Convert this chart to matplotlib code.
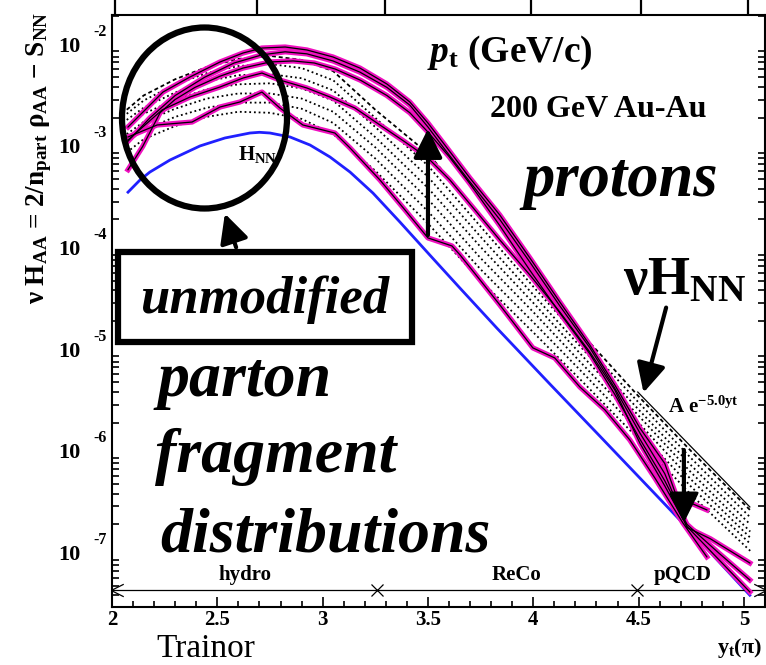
import matplotlib
matplotlib.use("Agg")
import numpy as np
import matplotlib.pyplot as plt
from matplotlib.patches import Ellipse, Rectangle, FancyArrowPatch
from matplotlib.path import Path
from matplotlib.ticker import MultipleLocator, LogLocator, NullFormatter, FixedLocator

plt.rcParams.update({
    "font.family": ["Liberation Serif", "DejaVu Serif"],
    "font.weight": "bold",
    "mathtext.fontset": "custom",
    "mathtext.rm": "Liberation Serif:bold",
    "mathtext.it": "Liberation Serif:italic:bold",
    "mathtext.bf": "Liberation Serif:bold",
    "mathtext.default": "rm",
})

# ---------------- data (log10 of nu*H) ----------------
# NN reference H_NN
yt_hnn = [2.076, 2.133, 2.180, 2.275, 2.418, 2.536, 2.655, 2.700, 2.750, 2.845, 2.940,
          3.035, 3.130, 3.239, 3.367, 3.509, 3.652, 3.827, 4.079, 4.316, 4.615, 4.791, 5.028]
lg_hnn = [-3.431, -3.311, -3.233, -3.115, -2.976, -2.898, -2.849, -2.842, -2.849, -2.888, -2.967,
          -3.085, -3.233, -3.440, -3.725, -4.050, -4.375, -4.768, -5.319, -5.831, -6.480, -6.864, -7.396]

# Au-Au centrality data, curves 1..5
yt_aa1 = [2.076, 2.242, 2.370, 2.513, 2.622, 2.712, 2.822, 2.925, 3.049, 3.177, 3.305, 3.414,
          3.500, 3.580, 3.699, 3.841, 3.984, 4.126, 4.268, 4.387, 4.506, 4.624, 4.681, 4.824]
lg_aa1 = [-2.790, -2.446, -2.298, -2.150, -2.062, -2.013, -2.003, -2.032, -2.101, -2.210, -2.367, -2.544,
          -2.751, -2.967, -3.292, -3.656, -4.079, -4.512, -4.934, -5.328, -5.751, -6.100, -6.430, -6.557]

yt_aa2 = [2.076, 2.180, 2.300, 2.440, 2.580, 2.712, 2.822, 2.925, 3.049, 3.177, 3.305, 3.414, 3.500,
          3.580, 3.699, 3.841, 3.984, 4.126, 4.268, 4.387, 4.506, 4.624, 4.730, 4.840, 5.028]
lg_aa2 = [-2.930, -2.700, -2.480, -2.300, -2.160, -2.080, -2.050, -2.070, -2.140, -2.250, -2.400, -2.575, -2.790,
          -3.010, -3.330, -3.700, -4.120, -4.550, -4.960, -5.360, -5.800, -6.200, -6.730, -6.840, -7.079]

yt_aa3 = [2.076, 2.146, 2.228, 2.299, 2.394, 2.513, 2.622, 2.750, 2.860, 2.960, 3.060, 3.180, 3.305, 3.414,
          3.500, 3.600, 3.700, 3.841, 3.984, 4.126, 4.268, 4.387, 4.506, 4.624, 4.730, 4.880, 5.028]
lg_aa3 = [-3.210, -2.980, -2.650, -2.520, -2.400, -2.290, -2.210, -2.150, -2.140, -2.160, -2.220, -2.330, -2.480, -2.650,
          -2.840, -3.080, -3.350, -3.760, -4.200, -4.620, -5.020, -5.420, -5.860, -6.270, -6.700, -6.980, -7.246]

yt_aa4 = [2.076, 2.237, 2.370, 2.513, 2.622, 2.712, 2.797, 2.925, 3.035, 3.153, 3.272, 3.391, 3.500,
          3.604, 3.723, 3.841, 3.984, 4.126, 4.268, 4.387, 4.506, 4.624, 4.730, 5.028]
lg_aa4 = [-2.918, -2.623, -2.495, -2.396, -2.308, -2.259, -2.328, -2.406, -2.495, -2.603, -2.770, -2.937, -3.095,
          -3.311, -3.606, -3.901, -4.246, -4.610, -5.003, -5.377, -5.900, -6.320, -6.720, -7.364]

yt_aa5 = [2.076, 2.214, 2.380, 2.513, 2.607, 2.712, 2.797, 2.906, 3.058, 3.130, 3.272, 3.391, 3.500,
          3.614, 3.652, 3.747, 3.841, 3.998, 4.102, 4.221, 4.340, 4.458, 4.577, 4.710, 4.824]
lg_aa5 = [-2.888, -2.770, -2.741, -2.593, -2.544, -2.446, -2.603, -2.770, -2.849, -2.996, -3.311, -3.606, -3.881,
          -3.960, -4.048, -4.294, -4.540, -4.963, -5.062, -5.347, -5.573, -5.868, -6.242, -6.684, -7.019]

# two-component model curves
yt_model = [2.07, 2.15, 2.30, 2.45, 2.60, 2.75, 2.90, 3.05, 3.25, 3.50, 3.75, 4.00, 4.25, 4.50, 4.75, 5.03]
lg_model = [
    [-2.62, -2.48, -2.32, -2.20, -2.12, -2.09, -2.13, -2.24, -2.62, -3.05, -3.66, -4.28, -4.87, -5.44, -5.98, -6.56],
    [-2.66, -2.53, -2.37, -2.26, -2.19, -2.17, -2.21, -2.33, -2.70, -3.17, -3.77, -4.36, -4.94, -5.50, -6.05, -6.63],
    [-2.72, -2.60, -2.45, -2.34, -2.28, -2.27, -2.31, -2.43, -2.79, -3.28, -3.87, -4.44, -5.01, -5.57, -6.12, -6.70],
    [-2.78, -2.66, -2.52, -2.42, -2.37, -2.36, -2.41, -2.53, -2.89, -3.39, -3.97, -4.52, -5.08, -5.63, -6.19, -6.77],
    [-2.86, -2.74, -2.61, -2.51, -2.46, -2.46, -2.51, -2.64, -2.99, -3.50, -4.08, -4.61, -5.16, -5.70, -6.26, -6.83],
    [-2.94, -2.82, -2.69, -2.60, -2.55, -2.55, -2.61, -2.75, -3.10, -3.62, -4.19, -4.71, -5.24, -5.78, -6.33, -6.89],
    [-3.04, -2.91, -2.78, -2.69, -2.64, -2.65, -2.71, -2.86, -3.22, -3.74, -4.30, -4.81, -5.33, -5.86, -6.41, -6.96],
]

# pQCD exponential reference A exp(-5.0 yt)
yt_exp = [4.496, 5.028]
lg_exp = [-5.397, -6.528]

# p_t (GeV/c) tick positions on the upper axis, in y_t
yt_pt_ticks = [2.014, 2.688, 3.296, 3.989, 4.511, 5.019]

xtick_vals = [2, 2.5, 3, 3.5, 4, 4.5, 5]
xtick_text = ["2", "2.5", "3", "3.5", "4", "4.5", "5"]
ytick_exp = [-2, -3, -4, -5, -6, -7]

regions = ["hydro", "ReCo", "pQCD"]
region_centers = [2.63, 3.92, 4.71]
region_edges = [3.26, 4.49]
region_level = -7.344

# ---------------- figure ----------------
W, H = 766, 665
fig = plt.figure(figsize=(W / 100, H / 100), dpi=100)
ax = fig.add_axes([112 / W, 1 - 607 / H, (765 - 112) / W, (607 - 15) / H])


def fxy(px, py):
    return px / W, 1 - py / H


ax.set_xlim(2.0, 5.1)
ax.set_yscale("log")
ax.set_ylim(10 ** -7.512, 10 ** -1.688)

MAG = "#f010c0"
BLUE = "#2020ff"

# model band
for i, lg in enumerate(lg_model):
    ls = (0, (2.2, 1.6)) if i == 0 else (0, (1, 1.6))
    ax.plot(yt_model, 10 ** np.array(lg), color="black", lw=1.3, ls=ls, zorder=2)

# reference line
ax.plot(yt_hnn, 10 ** np.array(lg_hnn), color=BLUE, lw=2.0, zorder=3)

# data curves: magenta with black core
for xs, lg in [(yt_aa5, lg_aa5), (yt_aa4, lg_aa4), (yt_aa3, lg_aa3), (yt_aa2, lg_aa2), (yt_aa1, lg_aa1)]:
    ys = 10 ** np.array(lg)
    ax.plot(xs, ys, color=MAG, lw=3.8, solid_joinstyle="round", zorder=4)
    ax.plot(xs, ys, color="black", lw=0.9, zorder=5)

ax.plot(yt_exp, 10 ** np.array(lg_exp), color="black", lw=0.9, zorder=3)

# axis styling
for s in ax.spines.values():
    s.set_linewidth(1.5)
ax.set_xticks(xtick_vals)
ax.set_xticklabels(xtick_text, fontsize=15, fontweight="bold")
ax.xaxis.set_minor_locator(MultipleLocator(0.1))
ax.yaxis.set_major_locator(FixedLocator([10.0 ** e for e in ytick_exp]))
ax.yaxis.set_minor_locator(LogLocator(base=10, subs=np.arange(2, 10), numticks=20))
ax.yaxis.set_major_formatter(NullFormatter())
ax.yaxis.set_minor_formatter(NullFormatter())
ax.tick_params(which="both", direction="in", top=True, right=True, width=1.2)
ax.tick_params(axis="x", which="major", length=7, pad=2.5)
ax.tick_params(axis="x", which="minor", length=4)
ax.tick_params(axis="y", which="major", length=9.5)
ax.tick_params(axis="y", which="minor", length=5)

# upper p_t axis ticks (outward)
axt = ax.twiny()
axt.set_xlim(ax.get_xlim())
axt.xaxis.set_major_locator(FixedLocator(yt_pt_ticks))
axt.xaxis.set_minor_locator(FixedLocator([]))
axt.tick_params(axis="x", which="major", direction="out", length=14, width=1.6, labeltop=False)
axt.set_yticks([])
for s in axt.spines.values():
    s.set_visible(False)

# y tick labels: 10 with raised exponent
ytr = ax.get_yaxis_transform()
for e in ytick_exp:
    ax.text(-0.066, 10.0 ** e, "10", transform=ytr, ha="center", va="center",
            fontsize=16, fontweight="bold")
    ax.annotate(str(e), xy=(-0.066, 10.0 ** e), xycoords=ytr, xytext=(31, 15),
                textcoords="offset pixels", ha="center", va="center",
                fontsize=11.5, fontweight="bold")

fig.text(*fxy(39, 158), "ν H$_{\\mathrm{AA}}$ = 2/n$_{\\mathrm{part}}$ ρ$_{\\mathrm{AA}}$ − S$_{\\mathrm{NN}}$",
         rotation=90, ha="center", va="center", fontsize=19.5, fontweight="bold")

fig.text(*fxy(762, 653), "y$_{\\mathrm{t}}$(π)", ha="right", va="baseline", fontsize=16, fontweight="bold")
fig.text(*fxy(156, 657), "Trainor", ha="left", va="baseline", fontsize=24, fontweight="normal")

# region bar
ax.plot([2.0, 5.1], [10 ** region_level] * 2, color="black", lw=0.9, zorder=3)
chev_l = Path([(1, 1), (-1, 0), (1, -1)])
chev_r = Path([(-1, 1), (1, 0), (-1, -1)])
ax.plot([2.025], [10 ** region_level], marker=chev_l, ms=9, mfc="none", mec="black", mew=0.9, ls="none")
ax.plot([5.075], [10 ** region_level], marker=chev_r, ms=9, mfc="none", mec="black", mew=0.9, ls="none")
ax.plot(region_edges, [10 ** region_level] * 2, marker="x", ms=9, mec="black", mew=0.9, ls="none")
for name, xc in zip(regions, region_centers):
    ax.annotate(name, xy=(xc, 10 ** region_level), xytext=(0, 5), textcoords="offset pixels",
                ha="center", va="bottom", fontsize=15, fontweight="bold")

# annotations
fig.text(*fxy(427, 62), "$\\mathit{p}_{\\mathrm{t}}$ (GeV/c)", ha="left", va="baseline", fontsize=27, fontweight="bold")
fig.text(*fxy(490, 117), "200 GeV Au-Au", ha="left", va="baseline", fontsize=23, fontweight="bold")
fig.text(*fxy(523, 196), "protons", ha="left", va="baseline", fontsize=45, fontweight="bold", style="italic")
fig.text(*fxy(623, 295), "νH$_{\\mathrm{NN}}$", ha="left", va="baseline", fontsize=39, fontweight="bold")
fig.text(*fxy(668, 413), "A e$^{\\mathrm{-5.0yt}}$", ha="left", va="baseline", fontsize=15, fontweight="bold")
fig.text(*fxy(238, 160), "H$_{\\mathrm{NN}}$", ha="left", va="baseline", fontsize=15, fontweight="bold", zorder=1)

fig.text(*fxy(140, 313), "unmodified", ha="left", va="baseline", fontsize=38, fontweight="bold", style="italic")
fig.text(*fxy(158, 396), "parton", ha="left", va="baseline", fontsize=46, fontweight="bold", style="italic")
fig.text(*fxy(155, 472), "fragment", ha="left", va="baseline", fontsize=46, fontweight="bold", style="italic")
fig.text(*fxy(160, 552), "distributions", ha="left", va="baseline", fontsize=46, fontweight="bold", style="italic")

# ellipse and box
ex, ey = fxy(204.5, 118)
fig.add_artist(Ellipse((ex, ey), 165 / W, 181 / H, transform=fig.transFigure,
                       fill=False, lw=4.5, ec="black", zorder=10))
bx0, by0 = fxy(118, 342)
fig.add_artist(Rectangle((bx0, by0), (412 - 118) / W, (342 - 252) / H, transform=fig.transFigure,
                         fill=False, lw=4.5, ec="black", zorder=10))

arrow_kw = dict(arrowstyle="-|>,head_length=0.8,head_width=0.4", mutation_scale=22,
                lw=3.0, color="black", zorder=11)
fig.add_artist(FancyArrowPatch(fxy(237, 250), fxy(224, 211), transform=fig.transFigure, **arrow_kw))
ax.add_patch(FancyArrowPatch((3.5, 10 ** -3.88), (3.5, 10 ** -2.78), **arrow_kw))
ax.add_patch(FancyArrowPatch((4.715, 10 ** -5.94), (4.715, 10 ** -6.71), **arrow_kw))
ax.add_patch(FancyArrowPatch((4.634, 10 ** -4.54), (4.52, 10 ** -5.43), **arrow_kw))

fig.savefig("out.png", dpi=100)
